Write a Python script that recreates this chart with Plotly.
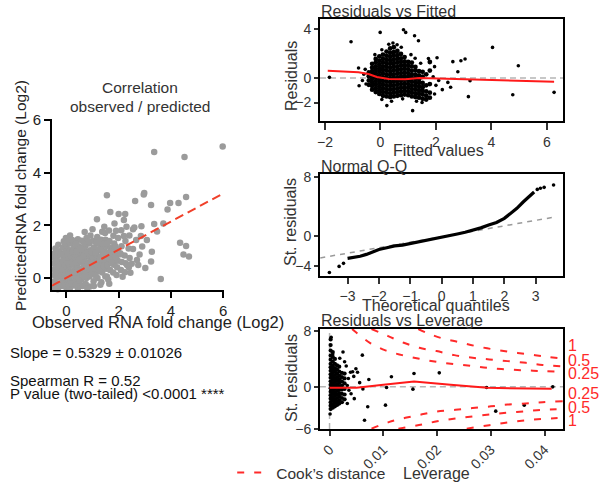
import plotly.graph_objects as go

FONT = "Liberation Sans, Arial, sans-serif"

# ---- Correlation observed / predicted (left panel) ----
corr_core = [
    (-0.48, -0.38), (-0.46, -0.12), (-0.47, 0.12), (-0.45, 0.33), (-0.48, 0.55), (-0.44, 0.74), (-0.47, 0.92), (-0.42, 1.12),
    (-0.33, -0.42), (-0.31, -0.2), (-0.35, 0.02), (-0.29, 0.22), (-0.32, 0.41), (-0.3, 0.62), (-0.34, 0.83), (-0.28, 1.02), (-0.31, 1.27),
    (-0.17, -0.3), (-0.14, -0.08), (-0.18, 0.11), (-0.13, 0.3), (-0.16, 0.52), (-0.12, 0.71), (-0.17, 0.93), (-0.14, 1.16), (-0.1, 1.4),
    (0.01, -0.41), (-0.02, -0.19), (0.02, 0.01), (-0.01, 0.22), (0.03, 0.42), (0.0, 0.61), (0.02, 0.8), (-0.03, 1.01), (0.01, 1.22), (-0.02, 1.52),
    (0.14, -0.36), (0.17, -0.14), (0.13, 0.06), (0.16, 0.26), (0.12, 0.46), (0.18, 0.66), (0.15, 0.86), (0.13, 1.06), (0.17, 1.31), (0.14, 1.62),
    (0.29, -0.28), (0.32, -0.09), (0.28, 0.12), (0.31, 0.31), (0.27, 0.51), (0.33, 0.7), (0.3, 0.91), (0.28, 1.12), (0.32, 1.36),
    (0.44, -0.4), (0.47, -0.18), (0.43, 0.02), (0.46, 0.21), (0.42, 0.41), (0.48, 0.6), (0.45, 0.81), (0.43, 1.01), (0.47, 1.21), (0.44, 1.47),
    (0.61, -0.3), (0.58, -0.04), (0.62, 0.16), (0.59, 0.36), (0.63, 0.56), (0.6, 0.76), (0.57, 0.96), (0.62, 1.16), (0.59, 1.42),
    (0.74, -0.22), (0.77, 0.01), (0.73, 0.21), (0.76, 0.41), (0.72, 0.61), (0.78, 0.81), (0.75, 1.01), (0.73, 1.22), (0.77, 1.52),
    (0.9, -0.32), (0.88, 0.06), (0.92, 0.26), (0.89, 0.46), (0.93, 0.66), (0.87, 0.86), (0.91, 1.06), (0.88, 1.31), (0.92, 1.62),
    (1.04, -0.12), (1.07, 0.16), (1.03, 0.36), (1.06, 0.56), (1.02, 0.76), (1.08, 0.96), (1.05, 1.16), (1.03, 1.42),
    (1.19, 0.01), (1.22, 0.26), (1.18, 0.46), (1.21, 0.66), (1.17, 0.86), (1.23, 1.06), (1.2, 1.31), (1.18, 1.56),
    (1.34, -0.16), (1.37, 0.21), (1.33, 0.41), (1.36, 0.61), (1.32, 0.81), (1.38, 1.01), (1.35, 1.21), (1.33, 1.46), (1.37, 1.76),
    (1.49, 0.06), (1.52, 0.36), (1.48, 0.61), (1.51, 0.81), (1.47, 1.01), (1.53, 1.21), (1.5, 1.46), (1.48, 1.71),
    (1.64, -0.21), (1.67, 0.31), (1.63, 0.56), (1.66, 0.76), (1.62, 0.96), (1.68, 1.16), (1.65, 1.41), (1.63, 1.81),
    (1.79, 0.21), (1.82, 0.51), (1.78, 0.71), (1.81, 0.91), (1.77, 1.11), (1.83, 1.31), (1.8, 1.61),
    (1.94, 0.41), (1.97, 0.66), (1.93, 0.86), (1.96, 1.06), (1.98, 1.52),
    (2.09, 0.31), (2.12, 0.61), (2.08, 0.91), (2.11, 1.21), (2.1, 1.82),
    (2.24, 0.22), (2.27, 0.56), (2.23, 0.86), (2.26, 1.41),
    (2.39, 0.41), (2.42, 0.76), (2.38, 1.12), (2.41, 1.62),
]
# extra points in the densest part of the cloud
corr_fill = [
    (-0.4, -0.25), (-0.38, 0.2), (-0.39, 0.65), (-0.37, 1.0), (-0.24, -0.3), (-0.22, 0.1), (-0.23, 0.5), (-0.21, 0.9),
    (-0.08, -0.3), (-0.07, 0.1), (-0.06, 0.5), (-0.08, 0.9), (-0.05, 1.3), (0.08, -0.25), (0.07, 0.15), (0.09, 0.55),
    (0.06, 0.95), (0.08, 1.4), (0.22, -0.2), (0.23, 0.2), (0.21, 0.6), (0.24, 1.0), (0.22, 1.45), (0.37, -0.25),
    (0.38, 0.2), (0.36, 0.6), (0.39, 1.0), (0.37, 1.3), (0.52, -0.1), (0.53, 0.3), (0.51, 0.7), (0.54, 1.1),
    (0.67, 0.05), (0.68, 0.45), (0.66, 0.85), (0.69, 1.3), (0.82, 0.1), (0.83, 0.55), (0.81, 0.95), (0.84, 1.4),
    (0.97, 0.15), (0.98, 0.6), (0.96, 1.0), (1.12, 0.1), (1.13, 0.55), (1.11, 0.95), (1.14, 1.35), (1.27, 0.3),
    (1.28, 0.7), (1.26, 1.1), (1.42, 0.45), (1.43, 0.9), (1.41, 1.3), (1.57, 0.5), (1.58, 0.9), (1.56, 1.3),
    (1.72, 0.6), (1.73, 1.0), (1.87, 0.8), (1.88, 1.2),
]
corr_sparse = [
    (3.36, 4.78), (4.52, 4.59), (5.98, 4.99), (1.55, 3.14), (2.98, 3.23), (2.96, 3.17), (2.63, 2.92),
    (3.24, 2.77), (4.58, 3.08), (4.29, 2.85), (3.97, 2.85), (3.87, 2.6), (3.71, 2.07), (3.47, 1.77),
    (3.08, 1.45), (2.87, 1.97), (2.55, 1.85), (4.35, 1.34), (4.58, 1.22), (4.48, 0.9), (4.69, 0.82),
    (3.61, -0.03), (3.27, 1.0), (3.24, 0.63), (3.02, 0.38), (1.68, 2.51), (1.17, 2.23), (2.0, 2.43),
    (2.25, 2.43), (1.84, 2.07), (2.2, 2.2), (2.3, 1.95), (2.67, 1.45), (2.06, 0.94), (2.7, 0.69),
    (2.32, 0.5), (2.5, 0.55), (1.55, 0.06), (1.92, 0.12), (2.15, 0.05), (1.6, -0.05), (2.45, 0.2),
    (2.8, 0.9), (2.9, 1.2), (3.36, 2.05), (2.6, 1.92), (2.85, 1.6), (2.55, 1.1), (2.2, 1.6), (1.0, 1.85),
    (0.7, 1.75), (1.45, 1.95), (1.9, 1.8), (2.75, 0.5), (1.3, -0.25), (1.05, -0.3), (0.8, -0.38),
]
corr_line_x = [-0.55, 6.0]
corr_line_y = [-0.28, 3.21]

# ---- Residuals vs Fitted ----
rf_cols = [
    (-0.42, [-0.55, -0.2, 0.15, 0.45]),
    (-0.3, [-0.95, -0.65, -0.35, -0.05, 0.25, 0.55, 0.85, 1.15]),
    (-0.17, [-1.15, -0.85, -0.55, -0.25, 0.05, 0.35, 0.65, 0.95, 1.25, 1.55]),
    (-0.04, [-1.3, -1.0, -0.7, -0.4, -0.1, 0.2, 0.5, 0.8, 1.1, 1.4, 1.75]),
    (0.09, [-1.45, -1.15, -0.85, -0.55, -0.25, 0.05, 0.35, 0.65, 0.95, 1.25, 1.55, 1.9]),
    (0.22, [-1.5, -1.2, -0.9, -0.6, -0.3, 0.0, 0.3, 0.6, 0.9, 1.2, 1.5, 1.8, 2.15]),
    (0.35, [-1.55, -1.25, -0.95, -0.65, -0.35, -0.05, 0.25, 0.55, 0.85, 1.15, 1.45, 1.75, 2.05, 2.4]),
    (0.48, [-1.5, -1.2, -0.9, -0.6, -0.3, 0.0, 0.3, 0.6, 0.9, 1.2, 1.5, 1.8, 2.1, 2.5]),
    (0.61, [-1.45, -1.15, -0.85, -0.55, -0.25, 0.05, 0.35, 0.65, 0.95, 1.25, 1.55, 1.85, 2.2]),
    (0.74, [-1.4, -1.1, -0.8, -0.5, -0.2, 0.1, 0.4, 0.7, 1.0, 1.3, 1.6, 1.95]),
    (0.87, [-1.35, -1.05, -0.75, -0.45, -0.15, 0.15, 0.45, 0.75, 1.05, 1.35, 1.7]),
    (1.0, [-1.4, -1.1, -0.8, -0.5, -0.2, 0.1, 0.4, 0.7, 1.0, 1.3]),
    (1.13, [-1.5, -1.2, -0.9, -0.6, -0.3, 0.0, 0.3, 0.6, 0.95, 1.25]),
    (1.26, [-1.55, -1.25, -0.95, -0.65, -0.35, -0.05, 0.25, 0.6, 0.9]),
    (1.39, [-1.6, -1.3, -1.0, -0.7, -0.4, -0.1, 0.2, 0.55]),
    (1.52, [-1.7, -1.35, -1.05, -0.75, -0.4, 0.1, 0.5]),
    (1.65, [-1.75, -1.45, -1.1, -0.6, 0.3]),
    (1.78, [-1.6, -1.2, -0.5, 0.6, 1.3]),
]
rf_sparse = [
    (-1.84, 0.05), (-1.06, 2.95), (-0.79, 0.81), (-0.77, -0.63), (-0.52, -0.49), (-0.01, 3.71),
    (0.23, -2.25), (0.83, 3.93), (0.91, 3.71), (1.23, 3.44), (1.37, 3.03), (1.16, -2.66),
    (4.04, 2.49), (4.97, 1.0), (4.77, -1.36), (6.26, -1.17), (3.17, -1.52), (3.05, 1.54),
    (2.9, 1.4), (2.61, 1.33), (2.79, 0.51), (2.43, -0.36), (2.53, -0.76), (2.23, -0.95),
    (3.23, -0.22), (2.04, 1.65), (1.95, 0.92), (1.73, 1.59), (1.9, 0.1), (2.0, -0.6),
    (1.95, -1.3), (2.1, -0.2), (0.3, 2.75), (0.6, 2.7), (0.75, 2.5), (0.45, 2.85),
    (-0.6, 0.3), (-0.55, 0.7), (-0.65, -0.2), (0.05, -1.75), (0.4, -1.9), (0.8, -1.7),
    (1.5, -2.0), (1.3, -1.9), (1.1, 1.9), (1.25, 1.6), (1.45, 1.2), (0.05, 2.3), (-0.2, 1.9),
]
rf_loess_x = [-1.9, -0.79, -0.43, -0.13, 0.3, 0.9, 1.4, 2.2, 3.17, 4.97, 6.26]
rf_loess_y = [0.59, 0.46, 0.32, 0.08, -0.08, -0.1, 0.0, -0.05, -0.1, -0.22, -0.3]

# ---- Normal Q-Q ----
qq_theo = [-3.0, -2.8, -2.6, -2.4, -2.2, -2.0, -1.75, -1.5, -1.25, -1.0, -0.75, -0.5, -0.25, 0.0,
           0.25, 0.5, 0.75, 1.0, 1.25, 1.5, 1.75, 2.0, 2.2, 2.4, 2.6, 2.8, 2.95]
qq_resid = [-2.98, -2.85, -2.7, -2.45, -2.12, -1.8, -1.55, -1.31, -1.2, -1.0, -0.8, -0.6, -0.38, -0.15,
            0.07, 0.3, 0.53, 0.8, 1.12, 1.5, 1.85, 2.4, 3.05, 3.75, 4.6, 5.3, 5.95]
qq_tail_theo = [-3.58, -3.27, -3.13, 3.05, 3.15, 3.27, 3.57]
qq_tail_resid = [-4.88, -4.07, -3.66, 6.3, 6.45, 6.57, 6.88]
qq_ref_x = [-3.87, 3.61]
qq_ref_y = [-2.93, 2.58]

# ---- Residuals vs Leverage ----
lev_cols = [
    (0.0002, [-3.2, -2.7, -2.2, -1.7, -1.2, -0.7, -0.2, 0.3, 0.8, 1.3, 1.8, 2.3, 2.8, 3.3, 3.9, 4.5, 5.2, 6.0, 6.8]),
    (0.0006, [-3.0, -2.5, -2.0, -1.5, -1.0, -0.5, 0.0, 0.5, 1.0, 1.5, 2.0, 2.5, 3.0, 3.6, 4.3, 5.0]),
    (0.0010, [-2.8, -2.3, -1.8, -1.3, -0.8, -0.3, 0.2, 0.7, 1.2, 1.7, 2.2, 2.7, 3.3, 4.0]),
    (0.0014, [-2.6, -2.1, -1.6, -1.1, -0.6, -0.1, 0.4, 0.9, 1.4, 1.9, 2.5, 3.1]),
    (0.0018, [-2.4, -1.9, -1.4, -0.9, -0.4, 0.1, 0.6, 1.1, 1.6, 2.2, 2.9]),
    (0.0023, [-2.2, -1.6, -1.0, -0.4, 0.2, 0.8, 1.4, 2.0]),
    (0.0028, [-1.8, -1.1, -0.3, 0.5, 1.2, 1.9]),
]
lev_sparse = [
    (0.0001, -3.9), (0.0003, 7.1), (0.0006, 4.7), (0.0019, 4.1), (0.0025, 5.0), (0.0039, 2.1),
    (0.0049, 2.6), (0.004, -1.0), (0.0046, -1.7), (0.0056, 0.6), (0.0035, 1.2), (0.0033, -2.4),
    (0.0061, 4.55), (0.0043, 2.16), (0.0073, 1.06), (0.0115, 1.44), (0.0157, 1.92), (0.0204, 2.01),
    (0.0155, -0.33), (0.0106, -0.09), (0.0062, -0.3), (0.0071, -2.87), (0.0104, -2.63),
    (0.0065, -4.79), (0.0309, -3.49), (0.0362, -2.63), (0.0292, -0.09), (0.0415, 0.0),
    (0.0052, 2.1), (0.0045, 1.5), (0.0031, 3.0), (0.0036, -0.5), (0.0028, 3.6), (0.0033, 0.2),
]
lev_smooth_x = [0.0, 0.005, 0.01, 0.0157, 0.0225, 0.0293, 0.0413]
lev_smooth_y = [-0.14, -0.14, 0.3, 0.77, 0.3, -0.14, -0.28]

# Cook's distance contours
cook_up1_x = [0.0165, 0.018, 0.021, 0.0241, 0.0272, 0.0305, 0.0338, 0.0371, 0.0404, 0.0434]
cook_up1_y = [8.3, 7.76, 6.95, 6.42, 5.85, 5.37, 4.99, 4.65, 4.31, 4.05]
cook_up05_x = [0.0078, 0.0109, 0.0138, 0.0167, 0.0199, 0.0232, 0.0266, 0.0297, 0.0331, 0.0365, 0.0396, 0.0434]
cook_up05_y = [8.3, 7.28, 6.32, 5.6, 5.13, 4.55, 4.17, 3.94, 3.69, 3.45, 3.15, 2.95]
cook_up025_x = [0.0042, 0.0048, 0.0075, 0.0104, 0.0135, 0.0167, 0.0199, 0.0232, 0.0266, 0.0297, 0.0331, 0.0365, 0.0396, 0.0434]
cook_up025_y = [8.3, 7.9, 6.32, 5.23, 4.55, 4.02, 3.59, 3.26, 2.97, 2.69, 2.5, 2.36, 2.26, 2.15]
cook_lo025_x = [0.0078, 0.011, 0.0141, 0.0172, 0.02, 0.0234, 0.0266, 0.03, 0.0331, 0.0365, 0.0396, 0.0434]
cook_lo025_y = [-6.0, -5.07, -4.45, -3.95, -3.55, -3.3, -3.05, -2.8, -2.55, -2.4, -2.2, -2.05]
cook_lo05_x = [0.0128, 0.0172, 0.02, 0.0234, 0.0266, 0.03, 0.0331, 0.0365, 0.0396, 0.0434]
cook_lo05_y = [-6.0, -5.4, -4.95, -4.55, -4.25, -3.95, -3.7, -3.5, -3.3, -3.2]
cook_lo1_x = [0.0255, 0.0297, 0.0331, 0.0365, 0.0396, 0.0434]
cook_lo1_y = [-6.0, -5.5, -5.1, -4.8, -4.6, -4.45]
cook_labels = ["1", "0.5", "0.25", "0.25", "0.5", "1"]
cook_label_y = [5.99, 3.84, 1.96, -0.9, -2.9, -4.8]


def unzip(pairs):
    return [p[0] for p in pairs], [p[1] for p in pairs]


def cols_to_xy(cols):
    xs, ys = [], []
    for x, yl in cols:
        xs += [x] * len(yl)
        ys += yl
    return xs, ys


fig = go.Figure()

# left panel
cx, cy = unzip(corr_core + corr_fill + corr_sparse)
fig.add_trace(go.Scatter(x=cx, y=cy, mode="markers", cliponaxis=False, showlegend=False,
                         marker=dict(size=6.5, color="#9b9b9b"), xaxis="x", yaxis="y"))
fig.add_trace(go.Scatter(x=corr_line_x, y=corr_line_y, mode="lines", showlegend=False,
                         line=dict(color="#f0402a", width=2, dash="9px,5px"), xaxis="x", yaxis="y"))

# residuals vs fitted
fig.add_trace(go.Scatter(x=[-2.18, 6.58], y=[0, 0], mode="lines", showlegend=False,
                         line=dict(color="#b5b5b5", width=1.5, dash="6px,4px"), xaxis="x2", yaxis="y2"))
rx, ry = cols_to_xy(rf_cols)
fig.add_trace(go.Scatter(x=rx, y=ry, mode="markers", showlegend=False,
                         marker=dict(size=4.8, color="black"), xaxis="x2", yaxis="y2"))
sx, sy = unzip(rf_sparse)
fig.add_trace(go.Scatter(x=sx, y=sy, mode="markers", showlegend=False,
                         marker=dict(size=3.6, color="black"), xaxis="x2", yaxis="y2"))
fig.add_trace(go.Scatter(x=rf_loess_x, y=rf_loess_y, mode="lines", showlegend=False,
                         line=dict(color="#ff1a1a", width=2), xaxis="x2", yaxis="y2"))

# normal Q-Q
fig.add_trace(go.Scatter(x=qq_ref_x, y=qq_ref_y, mode="lines", showlegend=False,
                         line=dict(color="#9a9a9a", width=1.5, dash="5px,5px"), xaxis="x3", yaxis="y3"))
fig.add_trace(go.Scatter(x=qq_theo, y=qq_resid, mode="lines", showlegend=False,
                         line=dict(color="black", width=3.2), xaxis="x3", yaxis="y3"))
fig.add_trace(go.Scatter(x=qq_tail_theo, y=qq_tail_resid, mode="markers", showlegend=False,
                         marker=dict(size=3.6, color="black"), xaxis="x3", yaxis="y3"))

# residuals vs leverage
fig.add_trace(go.Scatter(x=[-0.0018, 0.0434], y=[0, 0], mode="lines", showlegend=False,
                         line=dict(color="#b5b5b5", width=1.5, dash="6px,4px"), xaxis="x4", yaxis="y4"))
fig.add_trace(go.Scatter(x=[0, 0], y=[-6.05, 8.3], mode="lines", showlegend=False,
                         line=dict(color="#b5b5b5", width=1.5, dash="6px,4px"), xaxis="x4", yaxis="y4"))
lx, ly = cols_to_xy(lev_cols)
fig.add_trace(go.Scatter(x=lx, y=ly, mode="markers", showlegend=False,
                         marker=dict(size=4.2, color="black"), xaxis="x4", yaxis="y4"))
lsx, lsy = unzip(lev_sparse)
fig.add_trace(go.Scatter(x=lsx, y=lsy, mode="markers", showlegend=False,
                         marker=dict(size=3.6, color="black"), xaxis="x4", yaxis="y4"))
fig.add_trace(go.Scatter(x=lev_smooth_x, y=lev_smooth_y, mode="lines", showlegend=False,
                         line=dict(color="#ff1a1a", width=2), xaxis="x4", yaxis="y4"))
cook_curves = [(cook_up1_x, cook_up1_y), (cook_up05_x, cook_up05_y), (cook_up025_x, cook_up025_y),
               (cook_lo025_x, cook_lo025_y), (cook_lo05_x, cook_lo05_y), (cook_lo1_x, cook_lo1_y)]
for i, (kx, ky) in enumerate(cook_curves):
    fig.add_trace(go.Scatter(x=kx, y=ky, mode="lines", name="Cook\u2019s distance", showlegend=(i == 0),
                             line=dict(color="#ff2a2a", width=2, dash="7px,10px", shape="spline"),
                             xaxis="x4", yaxis="y4"))

left_ax = dict(showline=True, linecolor="black", linewidth=2, ticks="outside", ticklen=6, tickwidth=2,
               tickcolor="black", showgrid=False, zeroline=False,
               tickfont=dict(family=FONT, size=15, color="#222"))
box_ax = dict(showline=True, mirror=True, linecolor="black", linewidth=2, ticks="outside", ticklen=4,
              tickwidth=1.5, tickcolor="#333", showgrid=False, zeroline=False,
              tickfont=dict(family=FONT, size=14, color="#333"))

fig.update_layout(
    width=600, height=482, margin=dict(l=0, r=0, t=0, b=0, autoexpand=False),
    paper_bgcolor="white", plot_bgcolor="white",
    font=dict(family=FONT, color="#333"),
    xaxis=dict(left_ax, domain=[0.0867, 0.3733], range=[-0.55, 6.03], tickvals=[0, 2, 4, 6]),
    yaxis=dict(left_ax, domain=[0.3983, 0.7525], range=[-0.45, 6.02], tickvals=[0, 2, 4, 6]),
    xaxis2=dict(box_ax, domain=[0.5333, 0.9383], range=[-2.18, 6.58], tickvals=[-2, 0, 2, 4, 6],
                ticklen=7, anchor="y2"),
    yaxis2=dict(box_ax, domain=[0.749, 0.9606], range=[-3.5, 4.8], tickvals=[-2, 0, 4], anchor="x2"),
    xaxis3=dict(box_ax, domain=[0.5333, 0.9383], range=[-3.88, 3.87], tickvals=[-3, -2, -1, 0, 1, 2, 3],
                ticklen=6, anchor="y3"),
    yaxis3=dict(box_ax, domain=[0.4274, 0.639], range=[-5.36, 8.37], tickvals=[-4, 0, 8], anchor="x3"),
    xaxis4=dict(box_ax, domain=[0.5333, 0.9383], range=[-0.00178, 0.0434],
                tickvals=[0, 0.01, 0.02, 0.03, 0.04], ticktext=["0", "0.01", "0.02", "0.03", "0.04"],
                tickangle=-45, ticklen=5, anchor="y4"),
    yaxis4=dict(box_ax, domain=[0.11, 0.3174], range=[-6.05, 8.3], tickvals=[-6, 0, 8], anchor="x4"),
    showlegend=True,
    legend=dict(x=0.387, y=0.0187, xanchor="left", yanchor="middle", bgcolor="rgba(0,0,0,0)",
                font=dict(family=FONT, size=15.5, color="#333"), itemwidth=34),
)

# text annotations (titles, axis labels, stats)
def txt(text, x, y, size=15, angle=0, xanchor="center", color="#333", yref="paper"):
    fig.add_annotation(text=text, x=x, y=y, xref="paper", yref=yref, showarrow=False,
                       xanchor=xanchor, yanchor="middle", textangle=angle,
                       font=dict(family=FONT, size=size, color=color))

txt("Correlation", 140 / 600, 1 - 87 / 482, 15.5)
txt("observed / predicted", 140 / 600, 1 - 106 / 482, 15.5)
txt("PredictedRNA fold change (Log2)", 20 / 600, 1 - 196 / 482, 15.5, angle=-90, color="#222")
txt("Observed RNA fold change (Log2)", 158 / 600, 1 - 322 / 482, 16.5, color="#222")
txt("Slope = 0.5329 \u00b1 0.01026", 8 / 600, 1 - 352 / 482, 15, xanchor="left", color="#111")
txt("Spearman R = 0.52", 8 / 600, 1 - 380 / 482, 15, xanchor="left", color="#111")
txt("P value (two-tailed) &lt;0.0001 ****", 8 / 600, 1 - 393 / 482, 15, xanchor="left", color="#111")

txt("Residuals vs Fitted", 319 / 600, 1 - 11 / 482, 16, xanchor="left")
txt("Residuals", 291 / 600, 1 - 76 / 482, 16, angle=-90)
txt("Fitted values", 438 / 600, 1 - 150 / 482, 16)
txt("Normal Q-Q", 319 / 600, 1 - 166 / 482, 16, xanchor="left")
txt("St. residuals", 291 / 600, 1 - 222 / 482, 16, angle=-90)
txt("Theoretical quantiles", 436 / 600, 1 - 305 / 482, 16)
txt("Residuals vs Leverage", 319 / 600, 1 - 320 / 482, 16, xanchor="left")
txt("St. residuals", 291 / 600, 1 - 378 / 482, 16, angle=-90)
txt("Leverage", 436 / 600, 1 - 473 / 482, 16)

for lab, ly_ in zip(cook_labels, cook_label_y):
    txt(lab, 566 / 600, ly_, 16, xanchor="left", color="#ff2a2a", yref="y4")

# the page body has a default 8px margin; remove it so the figure sits at the window corner
fig.write_html("out.html", config={"displayModeBar": False},
               post_script="document.body.style.margin='0';document.body.style.overflow='hidden';")
